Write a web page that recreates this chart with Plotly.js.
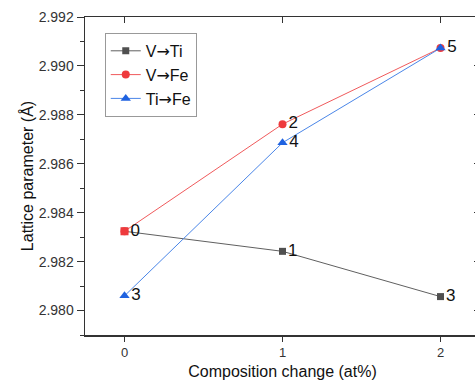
<!DOCTYPE html>
<html><head><meta charset="utf-8">
<script src="https://cdn.plot.ly/plotly-3.0.1.min.js"></script>
<style>html,body{margin:0;padding:0;overflow:hidden;background:#fff}#c{width:482px;height:387px}</style>
</head><body><div id="c"></div>
<script>
const composition = [0, 1, 2];
const vTi = [2.98324, 2.98242, 2.98057];
const vFe = [2.98324, 2.98762, 2.99073];
const tiFe = [2.98060, 2.98686, 2.99073];
const vTiLabels = ['', '1', '3'];
const vFeLabels = ['0', '2', ''];
const tiFeLabels = ['3', '4', '5'];
const seriesNames = ['V<span style="font-family:DejaVu Sans">→</span>Ti',
                     'V<span style="font-family:DejaVu Sans">→</span>Fe',
                     'Ti<span style="font-family:DejaVu Sans">→</span>Fe'];

const font = 'Liberation Sans, Arial, sans-serif';
const lblFont = {size: 17, color: '#111', family: font};
const traces = [
  {x: composition, y: vTi, name: seriesNames[0], mode: 'lines+markers+text', text: vTiLabels,
   textposition: 'middle right', textfont: lblFont,
   line: {color: '#606060', width: 1}, marker: {symbol: 'square', size: 7, color: '#505050'}},
  {x: composition, y: vFe, name: seriesNames[1], mode: 'lines+markers+text', text: vFeLabels,
   textposition: 'middle right', textfont: lblFont,
   line: {color: '#f05a5c', width: 1}, marker: {symbol: 'circle', size: 8, color: '#ee3a3d'}},
  {x: [composition[0]], y: [vFe[0]], showlegend: false, mode: 'markers',
   marker: {symbol: 'square', size: 8, color: '#ee3a3d'}},
  {x: composition, y: tiFe, name: seriesNames[2], mode: 'lines+markers+text', text: tiFeLabels,
   textposition: 'middle right', textfont: lblFont,
   line: {color: '#4a86e8', width: 1}, marker: {symbol: 'triangle-up', size: 9, color: '#1f62e0'}},
  {x: composition, y: vTi, xaxis: 'x2', yaxis: 'y2', showlegend: false, hoverinfo: 'skip',
   mode: 'markers', marker: {opacity: 0}}
];

const layout = {
  width: 482, height: 387,
  margin: {l: 85, r: 2, t: 17, b: 52},
  paper_bgcolor: '#fff', plot_bgcolor: '#fff',
  font: {family: font, color: '#222'},
  showlegend: true,
  legend: {x: 0.05, y: 0.95, xanchor: 'left', yanchor: 'top', bgcolor: '#fff',
           bordercolor: '#999', borderwidth: 1, font: {size: 16, color: '#111'},
           tracegroupgap: 0},
  xaxis: {range: [-0.25, 2.25], tickvals: [0, 1, 2], ticktext: ['0', '1', '2'],
          showgrid: false, zeroline: false, showline: true, linecolor: '#333', linewidth: 1.5,
          ticks: 'outside', ticklen: 5, tickcolor: '#333', tickfont: {size: 13, color: '#333'},
          title: {text: 'Composition change (at%)', font: {size: 16, color: '#111'}, standoff: 6}},
  yaxis: {range: [2.979, 2.992], tickvals: [2.980, 2.982, 2.984, 2.986, 2.988, 2.990, 2.992],
          ticktext: ['2.980', '2.982', '2.984', '2.986', '2.988', '2.990', '2.992'],
          showgrid: false, zeroline: false, showline: true, linecolor: '#333', linewidth: 1.5,
          ticks: 'outside', ticklen: 7, tickcolor: '#333', tickfont: {size: 14, color: '#333'},
          minor: {dtick: 0.001, ticks: 'outside', ticklen: 4, tickcolor: '#333'},
          title: {text: 'Lattice parameter (Å)', font: {size: 16, color: '#111'}, standoff: 1}},
  xaxis2: {overlaying: 'x', side: 'top', range: [-0.25, 2.25], tickvals: [0, 1, 2],
           showticklabels: false, showgrid: false, zeroline: false, showline: true,
           linecolor: '#333', linewidth: 1.5, ticks: 'inside', ticklen: 6, tickcolor: '#333'},
  yaxis2: {overlaying: 'y', side: 'right', range: [2.979, 2.992],
           tickvals: [2.980, 2.982, 2.984, 2.986, 2.988, 2.990, 2.992],
           showticklabels: false, showgrid: false, zeroline: false, showline: true,
           linecolor: '#333', linewidth: 1.5, ticks: 'inside', ticklen: 6, tickcolor: '#333'}
};
Plotly.newPlot('c', traces, layout, {displayModeBar: false, staticPlot: true});
</script></body></html>
